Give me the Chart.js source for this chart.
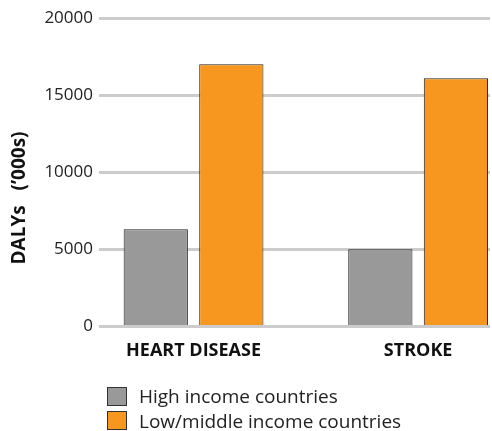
<!DOCTYPE html>
<html>
<head>
<meta charset="utf-8">
<script src="https://cdn.jsdelivr.net/npm/chart.js@4"></script>
<style>
  html, body { margin: 0; padding: 0; background: #fff; }
  #wrap { position: relative; width: 492px; height: 431px; }
  #legend { position: absolute; left: 107px; top: 384px; font-family: "Open Sans", sans-serif; font-size: 19px; color: #222; }
  #legend div { display: flex; align-items: center; height: 24.5px; }
  #legend span.box { width: 20px; height: 19px; border: 1.5px solid #333; box-sizing: border-box; margin-right: 12px; }
</style>
</head>
<body>
<div id="wrap">
  <canvas id="chart" width="492" height="431"></canvas>
  <div id="legend"></div>
</div>
<script>
const categories = ['HEART DISEASE', 'STROKE']
const highIncome = [6300, 5000]
const lowMiddleIncome = [17000, 16100]
const yTicks = [0, 5000, 10000, 15000, 20000]
const seriesNames = ['High income countries', 'Low/middle income countries']
const colors = ['#999999', '#f7971f']

// bars sit on a linear x scale so the groups can be off-centre like the original
const toPoints = (vals) => vals.map((v, i) => ({ x: i, y: v }))

const legend = document.getElementById('legend')
seriesNames.forEach((name, i) => {
  const row = document.createElement('div')
  row.innerHTML = `<span class="box" style="background:${colors[i]}"></span>${name}`
  legend.appendChild(row)
})

const yTitle = {
  id: 'yTitle',
  afterDraw(chart) {
    const ctx = chart.ctx
    ctx.save()
    ctx.translate(20, 198)
    ctx.rotate(-Math.PI / 2)
    ctx.font = 'bold 19px "Open Sans", sans-serif'
    ctx.fillStyle = '#111'
    ctx.textAlign = 'center'
    ctx.textBaseline = 'middle'
    ctx.fillText('DALYs   (\u2019000s)', 0, 0)
    ctx.restore()
  }
}

new Chart(document.getElementById('chart'), {
  type: 'bar',
  data: {
    datasets: [
      { label: seriesNames[0], data: toPoints(highIncome), backgroundColor: colors[0], borderColor: '#222', borderWidth: 1 },
      { label: seriesNames[1], data: toPoints(lowMiddleIncome), backgroundColor: colors[1], borderColor: '#222', borderWidth: 1 }
    ]
  },
  options: {
    responsive: false,
    animation: false,
    categoryPercentage: 0.673,
    barPercentage: 0.85,
    layout: { padding: { top: 18, right: 2, bottom: 63, left: 0 } },
    plugins: {
      legend: { display: false },
      tooltip: { enabled: false }
    },
    scales: {
      x: {
        type: 'linear',
        offset: false,
        min: -0.421,
        max: 1.32,
        grid: { display: false },
        border: { display: false },
        afterBuildTicks: (scale) => { scale.ticks = categories.map((c, i) => ({ value: i })) },
        ticks: {
          color: '#111',
          font: { family: 'Open Sans', size: 18, weight: 'bold' },
          padding: 6,
          maxRotation: 0,
          callback: (v) => categories[v]
        }
      },
      y: {
        min: 0,
        max: 20000,
        afterBuildTicks: (scale) => { scale.ticks = yTicks.map(v => ({ value: v })) },
        afterFit: (scale) => { scale.width = 99 },
        border: { display: false },
        grid: { color: '#cccccc', lineWidth: 3, drawTicks: false },
        ticks: {
          color: '#222',
          font: { family: 'Open Sans', size: 17 },
          padding: 6,
          callback: (v) => String(v)
        }
      }
    }
  },
  plugins: [yTitle]
})
</script>
</body>
</html>
